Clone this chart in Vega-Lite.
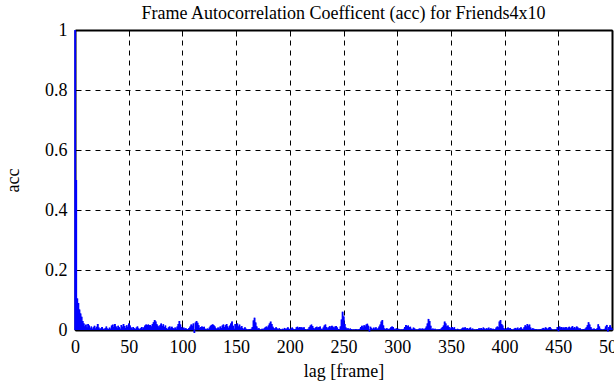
{
  "$schema": "https://vega.github.io/schema/vega-lite/v6.json",
  "autosize": "none",
  "width": 537,
  "height": 300,
  "padding": {"left": 75, "top": 30, "right": 2, "bottom": 55},
  "background": "white",
  "title": {"text": "Frame Autocorrelation Coefficent (acc) for Friends4x10", "font": "Liberation Serif", "fontSize": 18, "fontWeight": "normal", "color": "black", "offset": 0, "baseline": "alphabetic", "dy": 16},
  "config": {
    "view": {"stroke": null},
    "axis": {"zindex": 0, "labelFont": "Liberation Serif", "labelFontSize": 18, "labelColor": "black", "titleFont": "Liberation Serif", "titleFontSize": 18, "titleFontWeight": "normal", "titleColor": "black", "gridColor": "black", "gridOpacity": 1, "gridDash": [5, 5], "gridWidth": 1, "domainColor": "black", "domainWidth": 2, "tickColor": "black", "tickWidth": 1}
  },
  "data": {"values": [
{"lag":0,"acc":1.0},{"lag":1,"acc":0.5},{"lag":2,"acc":0.105},{"lag":3,"acc":0.09},{"lag":4,"acc":0.068},{"lag":5,"acc":0.055},{"lag":6,"acc":0.044},{"lag":7,"acc":0.03},{"lag":8,"acc":0.022},{"lag":9,"acc":0.012},
{"lag":10,"acc":0.018},{"lag":11,"acc":0.008},{"lag":12,"acc":0.02},{"lag":13,"acc":0.015},{"lag":14,"acc":0.006},{"lag":15,"acc":0.012},{"lag":16,"acc":0.004},{"lag":17,"acc":0.009},{"lag":18,"acc":0.014},{"lag":19,"acc":0.005},
{"lag":20,"acc":0.011},{"lag":21,"acc":0.02},{"lag":22,"acc":0.008},{"lag":23,"acc":0.003},{"lag":24,"acc":0.006},{"lag":25,"acc":0.01},{"lag":26,"acc":0.004},{"lag":27,"acc":0.002},{"lag":28,"acc":0.007},{"lag":29,"acc":0.012},
{"lag":30,"acc":0.005},{"lag":31,"acc":0.003},{"lag":32,"acc":0.008},{"lag":33,"acc":0.004},{"lag":34,"acc":0.015},{"lag":35,"acc":0.018},{"lag":36,"acc":0.01},{"lag":37,"acc":0.02},{"lag":38,"acc":0.012},{"lag":39,"acc":0.006},
{"lag":40,"acc":0.014},{"lag":41,"acc":0.009},{"lag":42,"acc":0.004},{"lag":43,"acc":0.017},{"lag":44,"acc":0.011},{"lag":45,"acc":0.02},{"lag":46,"acc":0.013},{"lag":47,"acc":0.007},{"lag":48,"acc":0.016},{"lag":49,"acc":0.01},
{"lag":50,"acc":0.022},{"lag":51,"acc":0.015},{"lag":52,"acc":0.008},{"lag":53,"acc":0.004},{"lag":54,"acc":0.01},{"lag":55,"acc":0.006},{"lag":56,"acc":0.003},{"lag":57,"acc":0.008},{"lag":58,"acc":0.012},{"lag":59,"acc":0.005},
{"lag":60,"acc":0.002},{"lag":61,"acc":0.006},{"lag":62,"acc":0.01},{"lag":63,"acc":0.004},{"lag":64,"acc":0.009},{"lag":65,"acc":0.015},{"lag":66,"acc":0.018},{"lag":67,"acc":0.017},{"lag":68,"acc":0.018},{"lag":69,"acc":0.016},
{"lag":70,"acc":0.017},{"lag":71,"acc":0.012},{"lag":72,"acc":0.02},{"lag":73,"acc":0.026},{"lag":74,"acc":0.033},{"lag":75,"acc":0.028},{"lag":76,"acc":0.019},{"lag":77,"acc":0.014},{"lag":78,"acc":0.008},{"lag":79,"acc":0.016},
{"lag":80,"acc":0.022},{"lag":81,"acc":0.013},{"lag":82,"acc":0.019},{"lag":83,"acc":0.01},{"lag":84,"acc":0.015},{"lag":85,"acc":0.006},{"lag":86,"acc":0.003},{"lag":87,"acc":0.009},{"lag":88,"acc":0.012},{"lag":89,"acc":0.005},
{"lag":90,"acc":0.011},{"lag":91,"acc":0.007},{"lag":92,"acc":0.003},{"lag":93,"acc":0.008},{"lag":94,"acc":0.004},{"lag":95,"acc":0.012},{"lag":96,"acc":0.02},{"lag":97,"acc":0.03},{"lag":98,"acc":0.018},{"lag":99,"acc":0.01},
{"lag":100,"acc":0.005},{"lag":101,"acc":0.008},{"lag":102,"acc":0.004},{"lag":103,"acc":0.006},{"lag":104,"acc":0.003},{"lag":105,"acc":0.002},{"lag":106,"acc":0.007},{"lag":107,"acc":0.012},{"lag":108,"acc":0.018},{"lag":109,"acc":0.014},
{"lag":110,"acc":0.022},{"lag":111,"acc":-0.01},{"lag":112,"acc":0.025},{"lag":113,"acc":0.03},{"lag":114,"acc":0.024},{"lag":115,"acc":0.016},{"lag":116,"acc":0.006},{"lag":117,"acc":0.01},{"lag":118,"acc":0.012},{"lag":119,"acc":0.009},
{"lag":120,"acc":0.011},{"lag":121,"acc":0.004},{"lag":122,"acc":0.002},{"lag":123,"acc":0.005},{"lag":124,"acc":0.003},{"lag":125,"acc":0.008},{"lag":126,"acc":0.014},{"lag":127,"acc":0.017},{"lag":128,"acc":0.019},{"lag":129,"acc":0.016},
{"lag":130,"acc":0.012},{"lag":131,"acc":0.006},{"lag":132,"acc":0.003},{"lag":133,"acc":0.008},{"lag":134,"acc":0.004},{"lag":135,"acc":0.012},{"lag":136,"acc":0.007},{"lag":137,"acc":0.015},{"lag":138,"acc":0.018},{"lag":139,"acc":0.01},
{"lag":140,"acc":0.016},{"lag":141,"acc":0.02},{"lag":142,"acc":0.012},{"lag":143,"acc":0.006},{"lag":144,"acc":0.015},{"lag":145,"acc":0.022},{"lag":146,"acc":0.028},{"lag":147,"acc":0.014},{"lag":148,"acc":0.004},{"lag":149,"acc":0.02},
{"lag":150,"acc":0.016},{"lag":151,"acc":0.022},{"lag":152,"acc":0.012},{"lag":153,"acc":0.018},{"lag":154,"acc":0.008},{"lag":155,"acc":0.013},{"lag":156,"acc":0.006},{"lag":157,"acc":0.003},{"lag":158,"acc":0.009},{"lag":159,"acc":0.004},
{"lag":160,"acc":0.002},{"lag":161,"acc":0.001},{"lag":162,"acc":0.003},{"lag":163,"acc":0.002},{"lag":164,"acc":0.004},{"lag":165,"acc":0.01},{"lag":166,"acc":0.032},{"lag":167,"acc":0.041},{"lag":168,"acc":0.025},{"lag":169,"acc":0.012},
{"lag":170,"acc":0.004},{"lag":171,"acc":0.006},{"lag":172,"acc":0.002},{"lag":173,"acc":0.001},{"lag":174,"acc":0.004},{"lag":175,"acc":0.002},{"lag":176,"acc":0.006},{"lag":177,"acc":0.009},{"lag":178,"acc":0.012},{"lag":179,"acc":0.008},
{"lag":180,"acc":0.015},{"lag":181,"acc":0.022},{"lag":182,"acc":0.028},{"lag":183,"acc":0.02},{"lag":184,"acc":0.011},{"lag":185,"acc":0.006},{"lag":186,"acc":0.004},{"lag":187,"acc":0.009},{"lag":188,"acc":0.005},{"lag":189,"acc":0.002},
{"lag":190,"acc":0.006},{"lag":191,"acc":0.003},{"lag":192,"acc":0.001},{"lag":193,"acc":0.004},{"lag":194,"acc":0.002},{"lag":195,"acc":0.007},{"lag":196,"acc":0.003},{"lag":197,"acc":0.005},{"lag":198,"acc":0.009},{"lag":199,"acc":0.004},
{"lag":200,"acc":0.002},{"lag":201,"acc":0.005},{"lag":202,"acc":0.008},{"lag":203,"acc":0.004},{"lag":204,"acc":0.002},{"lag":205,"acc":0.003},{"lag":206,"acc":0.009},{"lag":207,"acc":0.011},{"lag":208,"acc":0.007},{"lag":209,"acc":0.01},
{"lag":210,"acc":0.008},{"lag":211,"acc":0.009},{"lag":212,"acc":0.005},{"lag":213,"acc":0.009},{"lag":214,"acc":0.003},{"lag":215,"acc":0.001},{"lag":216,"acc":0.002},{"lag":217,"acc":0.004},{"lag":218,"acc":0.01},{"lag":219,"acc":0.015},
{"lag":220,"acc":0.018},{"lag":221,"acc":0.013},{"lag":222,"acc":0.007},{"lag":223,"acc":0.004},{"lag":224,"acc":0.009},{"lag":225,"acc":0.011},{"lag":226,"acc":0.006},{"lag":227,"acc":0.01},{"lag":228,"acc":0.012},{"lag":229,"acc":0.004},
{"lag":230,"acc":0.002},{"lag":231,"acc":0.008},{"lag":232,"acc":0.015},{"lag":233,"acc":0.018},{"lag":234,"acc":0.01},{"lag":235,"acc":0.005},{"lag":236,"acc":0.009},{"lag":237,"acc":0.013},{"lag":238,"acc":0.008},{"lag":239,"acc":0.014},
{"lag":240,"acc":0.011},{"lag":241,"acc":0.006},{"lag":242,"acc":0.012},{"lag":243,"acc":0.013},{"lag":244,"acc":0.008},{"lag":245,"acc":0.003},{"lag":246,"acc":0.002},{"lag":247,"acc":0.012},{"lag":248,"acc":0.035},{"lag":249,"acc":0.061},
{"lag":250,"acc":0.045},{"lag":251,"acc":0.02},{"lag":252,"acc":0.008},{"lag":253,"acc":0.004},{"lag":254,"acc":0.006},{"lag":255,"acc":0.002},{"lag":256,"acc":0.005},{"lag":257,"acc":0.003},{"lag":258,"acc":0.001},{"lag":259,"acc":0.002},
{"lag":260,"acc":0.001},{"lag":261,"acc":0.003},{"lag":262,"acc":0.002},{"lag":263,"acc":0.001},{"lag":264,"acc":0.002},{"lag":265,"acc":0.004},{"lag":266,"acc":0.01},{"lag":267,"acc":0.014},{"lag":268,"acc":0.008},{"lag":269,"acc":0.016},
{"lag":270,"acc":0.012},{"lag":271,"acc":0.018},{"lag":272,"acc":0.021},{"lag":273,"acc":0.014},{"lag":274,"acc":-0.005},{"lag":275,"acc":0.011},{"lag":276,"acc":0.006},{"lag":277,"acc":0.003},{"lag":278,"acc":0.008},{"lag":279,"acc":0.004},
{"lag":280,"acc":0.009},{"lag":281,"acc":0.003},{"lag":282,"acc":0.006},{"lag":283,"acc":0.012},{"lag":284,"acc":0.018},{"lag":285,"acc":0.028},{"lag":286,"acc":0.033},{"lag":287,"acc":0.015},{"lag":288,"acc":0.005},{"lag":289,"acc":0.003},
{"lag":290,"acc":0.006},{"lag":291,"acc":0.004},{"lag":292,"acc":0.002},{"lag":293,"acc":0.005},{"lag":294,"acc":0.009},{"lag":295,"acc":0.012},{"lag":296,"acc":0.01},{"lag":297,"acc":0.004},{"lag":298,"acc":0.002},{"lag":299,"acc":0.006},
{"lag":300,"acc":0.003},{"lag":301,"acc":0.004},{"lag":302,"acc":0.002},{"lag":303,"acc":0.001},{"lag":304,"acc":0.002},{"lag":305,"acc":0.001},{"lag":306,"acc":0.004},{"lag":307,"acc":0.01},{"lag":308,"acc":0.017},{"lag":309,"acc":0.012},
{"lag":310,"acc":0.015},{"lag":311,"acc":0.009},{"lag":312,"acc":0.011},{"lag":313,"acc":0.004},{"lag":314,"acc":0.002},{"lag":315,"acc":0.008},{"lag":316,"acc":0.005},{"lag":317,"acc":0.001},{"lag":318,"acc":0.002},{"lag":319,"acc":0.001},
{"lag":320,"acc":0.004},{"lag":321,"acc":0.005},{"lag":322,"acc":0.003},{"lag":323,"acc":0.005},{"lag":324,"acc":0.004},{"lag":325,"acc":0.002},{"lag":326,"acc":0.006},{"lag":327,"acc":0.012},{"lag":328,"acc":0.022},{"lag":329,"acc":0.037},
{"lag":330,"acc":0.03},{"lag":331,"acc":0.014},{"lag":332,"acc":0.003},{"lag":333,"acc":0.005},{"lag":334,"acc":0.002},{"lag":335,"acc":0.004},{"lag":336,"acc":0.001},{"lag":337,"acc":0.002},{"lag":338,"acc":0.001},{"lag":339,"acc":0.003},
{"lag":340,"acc":0.002},{"lag":341,"acc":0.006},{"lag":342,"acc":0.01},{"lag":343,"acc":0.015},{"lag":344,"acc":0.028},{"lag":345,"acc":0.022},{"lag":346,"acc":0.012},{"lag":347,"acc":0.015},{"lag":348,"acc":0.01},{"lag":349,"acc":0.004},
{"lag":350,"acc":0.008},{"lag":351,"acc":0.01},{"lag":352,"acc":0.006},{"lag":353,"acc":0.009},{"lag":354,"acc":0.003},{"lag":355,"acc":0.001},{"lag":356,"acc":0.004},{"lag":357,"acc":0.002},{"lag":358,"acc":0.001},{"lag":359,"acc":0.002},
{"lag":360,"acc":0.005},{"lag":361,"acc":0.008},{"lag":362,"acc":0.006},{"lag":363,"acc":0.009},{"lag":364,"acc":0.004},{"lag":365,"acc":0.007},{"lag":366,"acc":0.003},{"lag":367,"acc":0.006},{"lag":368,"acc":0.008},{"lag":369,"acc":0.002},
{"lag":370,"acc":0.005},{"lag":371,"acc":0.001},{"lag":372,"acc":0.002},{"lag":373,"acc":0.001},{"lag":374,"acc":0.003},{"lag":375,"acc":0.002},{"lag":376,"acc":0.006},{"lag":377,"acc":0.004},{"lag":378,"acc":0.007},{"lag":379,"acc":0.003},
{"lag":380,"acc":0.008},{"lag":381,"acc":0.005},{"lag":382,"acc":0.002},{"lag":383,"acc":0.006},{"lag":384,"acc":0.004},{"lag":385,"acc":0.008},{"lag":386,"acc":0.003},{"lag":387,"acc":0.006},{"lag":388,"acc":0.002},{"lag":389,"acc":0.004},
{"lag":390,"acc":0.001},{"lag":391,"acc":0.003},{"lag":392,"acc":0.008},{"lag":393,"acc":0.012},{"lag":394,"acc":0.009},{"lag":395,"acc":0.028},{"lag":396,"acc":0.033},{"lag":397,"acc":0.02},{"lag":398,"acc":0.015},{"lag":399,"acc":0.006},
{"lag":400,"acc":0.004},{"lag":401,"acc":0.002},{"lag":402,"acc":0.006},{"lag":403,"acc":0.008},{"lag":404,"acc":0.005},{"lag":405,"acc":0.007},{"lag":406,"acc":0.003},{"lag":407,"acc":0.001},{"lag":408,"acc":0.002},{"lag":409,"acc":0.005},
{"lag":410,"acc":0.007},{"lag":411,"acc":0.004},{"lag":412,"acc":0.008},{"lag":413,"acc":0.003},{"lag":414,"acc":0.006},{"lag":415,"acc":0.009},{"lag":416,"acc":0.004},{"lag":417,"acc":0.002},{"lag":418,"acc":0.009},{"lag":419,"acc":0.016},
{"lag":420,"acc":0.012},{"lag":421,"acc":0.02},{"lag":422,"acc":0.014},{"lag":423,"acc":0.018},{"lag":424,"acc":0.008},{"lag":425,"acc":0.003},{"lag":426,"acc":0.006},{"lag":427,"acc":0.004},{"lag":428,"acc":0.002},{"lag":429,"acc":0.003},
{"lag":430,"acc":0.001},{"lag":431,"acc":0.002},{"lag":432,"acc":0.001},{"lag":433,"acc":0.003},{"lag":434,"acc":0.002},{"lag":435,"acc":0.005},{"lag":436,"acc":0.007},{"lag":437,"acc":0.004},{"lag":438,"acc":0.009},{"lag":439,"acc":0.006},
{"lag":440,"acc":0.003},{"lag":441,"acc":0.008},{"lag":442,"acc":0.01},{"lag":443,"acc":0.005},{"lag":444,"acc":0.002},{"lag":445,"acc":0.001},{"lag":446,"acc":0.002},{"lag":447,"acc":0.001},{"lag":448,"acc":0.003},{"lag":449,"acc":0.01},
{"lag":450,"acc":-0.004},{"lag":451,"acc":0.012},{"lag":452,"acc":0.008},{"lag":453,"acc":0.01},{"lag":454,"acc":0.005},{"lag":455,"acc":0.009},{"lag":456,"acc":0.006},{"lag":457,"acc":0.01},{"lag":458,"acc":0.004},{"lag":459,"acc":0.008},
{"lag":460,"acc":0.011},{"lag":461,"acc":0.006},{"lag":462,"acc":0.009},{"lag":463,"acc":0.013},{"lag":464,"acc":0.007},{"lag":465,"acc":0.01},{"lag":466,"acc":0.005},{"lag":467,"acc":0.012},{"lag":468,"acc":0.008},{"lag":469,"acc":0.004},
{"lag":470,"acc":0.006},{"lag":471,"acc":0.002},{"lag":472,"acc":0.001},{"lag":473,"acc":0.003},{"lag":474,"acc":0.002},{"lag":475,"acc":0.005},{"lag":476,"acc":0.009},{"lag":477,"acc":0.016},{"lag":478,"acc":0.026},{"lag":479,"acc":0.018},
{"lag":480,"acc":0.01},{"lag":481,"acc":0.004},{"lag":482,"acc":0.002},{"lag":483,"acc":0.005},{"lag":484,"acc":0.003},{"lag":485,"acc":0.002},{"lag":486,"acc":0.006},{"lag":487,"acc":0.019},{"lag":488,"acc":0.012},{"lag":489,"acc":0.004},
{"lag":490,"acc":0.002},{"lag":491,"acc":0.001},{"lag":492,"acc":0.002},{"lag":493,"acc":0.004},{"lag":494,"acc":0.012},{"lag":495,"acc":0.017},{"lag":496,"acc":-0.005},{"lag":497,"acc":0.01},{"lag":498,"acc":0.016},{"lag":499,"acc":0.008},
{"lag":500,"acc":0.006}
  ]},
  "layer": [
    {
      "mark": {"type": "area", "interpolate": "step-after", "opacity": 0},
      "encoding": {
        "x": {"field": "lag", "type": "quantitative", "scale": {"domain": [0, 500], "nice": false}, "axis": {"orient": "top", "values": [0, 50, 100, 150, 200, 250, 300, 350, 400, 450, 500], "labels": false, "title": null, "grid": false, "domain": true, "ticks": true, "tickSize": -6}},
        "y": {"field": "acc", "type": "quantitative", "scale": {"domain": [0, 1], "nice": false, "zero": false}, "axis": {"orient": "right", "values": [0, 0.2, 0.4, 0.6, 0.8, 1], "labels": false, "title": null, "grid": false, "domain": true, "ticks": true, "tickSize": -6}}
      }
    },
    {
      "mark": {"type": "area", "interpolate": "step-after", "opacity": 0},
      "encoding": {
        "x": {"field": "lag", "type": "quantitative", "axis": {"orient": "bottom", "values": [0, 50, 100, 150, 200, 250, 300, 350, 400, 450, 500], "labels": false, "title": null, "grid": false, "domain": false, "ticks": true, "tickSize": -6}},
        "y": {"field": "acc", "type": "quantitative", "axis": {"orient": "left", "values": [0, 0.2, 0.4, 0.6, 0.8, 1], "labels": false, "title": null, "grid": false, "domain": false, "ticks": true, "tickSize": -6}}
      }
    },
    {
      "mark": {"type": "area", "interpolate": "step-after", "color": "#0000ff", "clip": false},
      "encoding": {
        "x": {"field": "lag", "type": "quantitative", "axis": {"orient": "bottom", "values": [0, 50, 100, 150, 200, 250, 300, 350, 400, 450, 500], "format": "d", "title": "lag [frame]", "grid": true, "domain": true, "ticks": false, "labelPadding": 8, "titlePadding": 6, "labelOverlap": false, "labelFlush": false, "labelBound": false}},
        "y": {"field": "acc", "type": "quantitative", "axis": {"orient": "left", "values": [0, 0.2, 0.4, 0.6, 0.8, 1], "format": "~g", "title": "acc", "grid": true, "domain": true, "ticks": false, "labelPadding": 8, "titlePadding": 22, "labelOverlap": false, "labelFlush": false, "labelBound": false}}
      }
    },
    {
      "mark": {"type": "rule", "color": "#0000ff", "strokeWidth": 1.5, "clip": false},
      "encoding": {
        "x": {"field": "lag", "type": "quantitative", "axis": null},
        "y": {"field": "acc", "type": "quantitative", "axis": null},
        "y2": {"datum": 0}
      }
    }
  ],
  "resolve": {"axis": {"x": "independent", "y": "independent"}}
}
